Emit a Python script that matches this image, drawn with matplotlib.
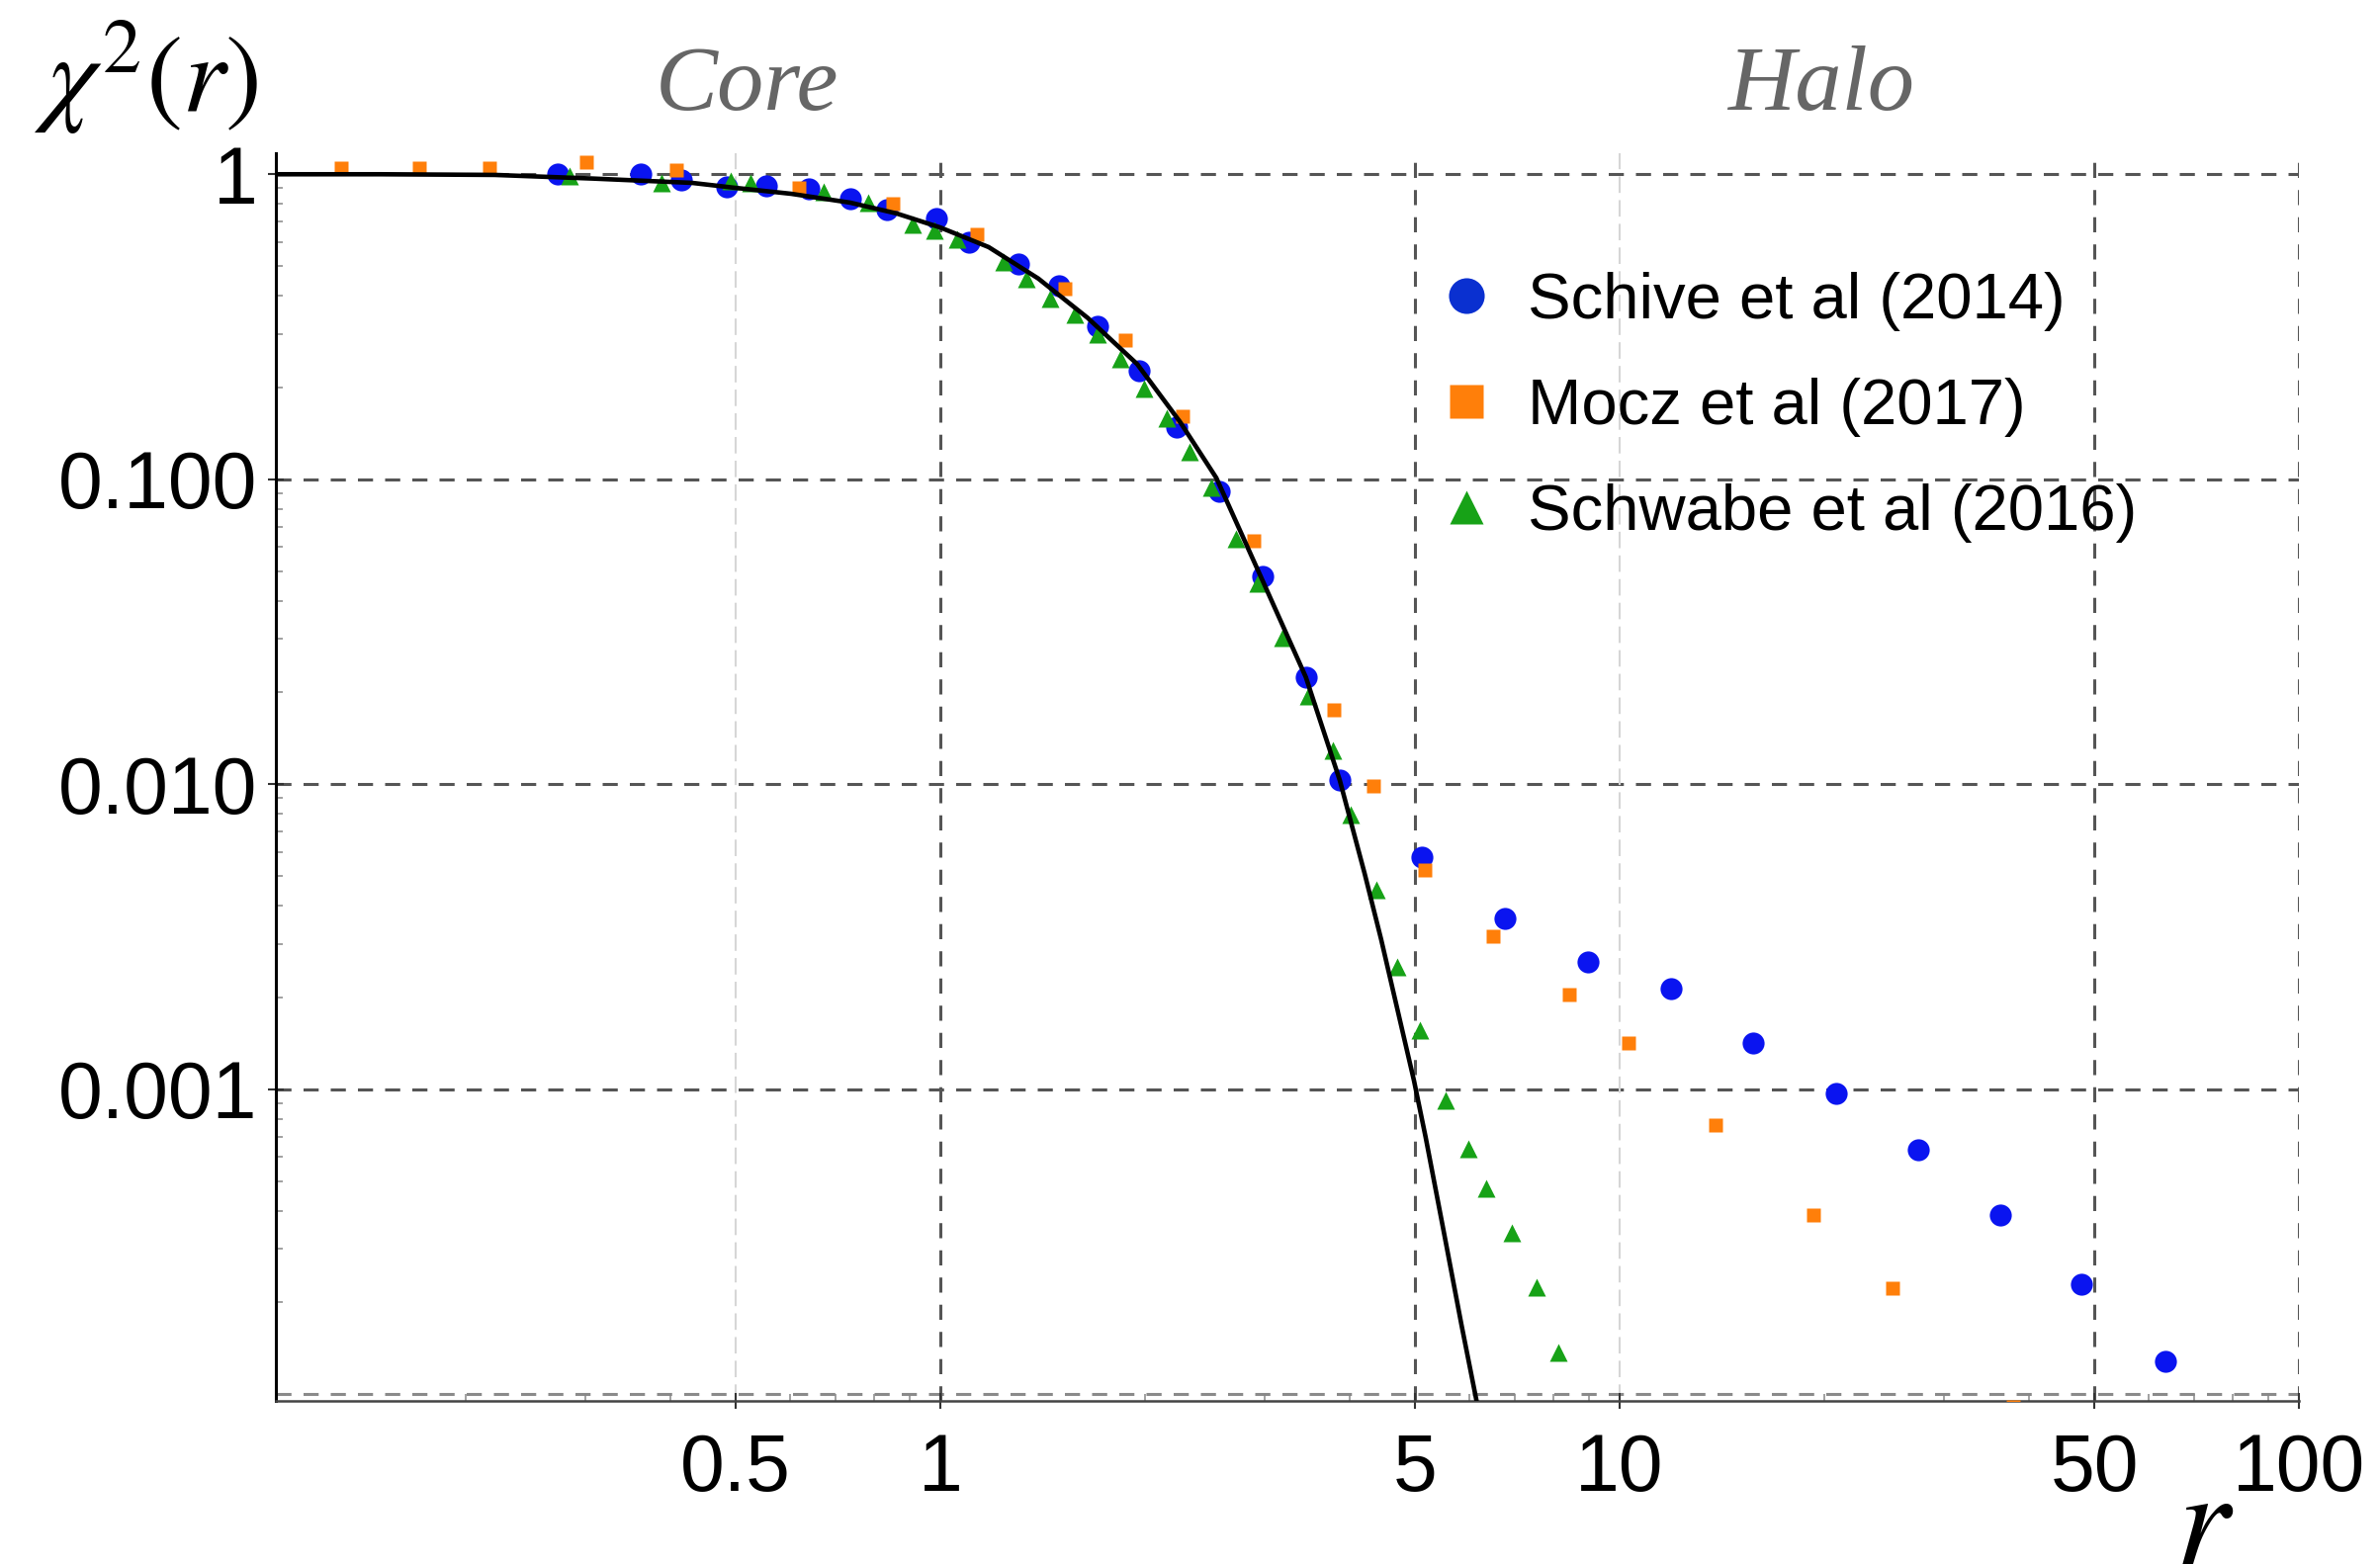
import numpy as np
import matplotlib
matplotlib.use("Agg")
import matplotlib.pyplot as plt
from matplotlib.lines import Line2D
from matplotlib.ticker import LogLocator, NullFormatter, FixedLocator

# ---- data -----------------------------------------------------------------
schive_r = [0.273, 0.362, 0.415, 0.484, 0.554, 0.641, 0.737, 0.834, 0.986, 1.102,
            1.303, 1.494, 1.704, 1.960, 2.228, 2.576, 2.979, 3.452, 3.873, 5.12,
            6.77, 8.98, 11.9, 15.74, 20.8, 27.5, 36.4, 47.8, 63.7]
schive_chi2 = [1.0, 1.0, 0.96, 0.908, 0.914, 0.896, 0.834, 0.768, 0.718, 0.599,
               0.509, 0.430, 0.318, 0.227, 0.1486, 0.0915, 0.048, 0.02245, 0.0103, 0.00578,
               0.00362, 0.00261, 0.00214, 0.00142, 0.000969, 0.000635, 0.000386, 0.000230, 0.000128]

mocz_r = [0.131, 0.171, 0.217, 0.301, 0.409, 0.620, 0.852, 1.133, 1.524, 1.874,
          2.271, 2.897, 3.797, 4.341, 5.162, 6.51, 8.42, 10.3, 13.84, 19.31,
          25.2, 37.9]
mocz_chi2 = [1.048, 1.048, 1.048, 1.094, 1.03, 0.903, 0.801, 0.637, 0.423, 0.285,
             0.1613, 0.063, 0.0175, 0.00987, 0.00524, 0.00318, 0.002046, 0.001418, 0.000762, 0.000388,
             0.000222, 0.0000910]

schwabe_r = [0.285, 0.389, 0.492, 0.526, 0.673, 0.784, 0.911, 0.980, 1.06, 1.239,
             1.34, 1.45, 1.576, 1.704, 1.842, 1.993, 2.155, 2.329, 2.505, 2.723,
             2.929, 3.185, 3.483, 3.788, 4.015, 4.38, 4.71, 5.08, 5.54, 5.99,
             6.36, 6.94, 7.55, 8.12]
schwabe_chi2 = [0.985, 0.937, 0.949, 0.937, 0.877, 0.807, 0.687, 0.653, 0.614, 0.516,
                0.455, 0.392, 0.347, 0.2985, 0.2476, 0.198, 0.1583, 0.1228, 0.0939, 0.0638,
                0.0456, 0.0303, 0.01948, 0.01289, 0.00795, 0.00451, 0.002513, 0.001566, 0.000922, 0.00064,
                0.000474, 0.000339, 0.000225, 0.0001368]

soliton_r = [0.10515, 0.15, 0.2207, 0.308, 0.431, 0.498, 0.603, 0.737, 0.862, 1.0,
             1.178, 1.394, 1.648, 1.949, 2.253, 2.548, 2.979, 3.452, 3.873, 4.212,
             4.455, 4.981, 5.18, 5.507, 5.85, 6.19]
soliton_chi2 = [1.0, 1.0, 0.995, 0.968, 0.937, 0.903, 0.863, 0.807, 0.744, 0.669,
                0.577, 0.455, 0.338, 0.2385, 0.1543, 0.1011, 0.0467, 0.02245, 0.0103, 0.00511,
                0.003105, 0.001066, 0.000698, 0.000343, 0.000169, 0.0000896]

series_labels = ["Schive et al (2014)", "Mocz et al (2017)", "Schwabe et al (2016)"]

x_ticks = [0.5, 1, 5, 10, 50, 100]
x_ticklabels = ["0.5", "1", "5", "10", "50", "100"]
y_ticks = [1e-3, 1e-2, 1e-1, 1]
y_ticklabels = ["0.001", "0.010", "0.100", "1"]

# ---- styling --------------------------------------------------------------
BLUE = "#0a14f0"
ORANGE = "#ff7f0a"
GREEN = "#17a217"
SANS = ["Liberation Sans", "DejaVu Sans"]

W, H = 2407, 1582
fig = plt.figure(figsize=(W / 100, H / 100), dpi=100)
ax = fig.add_axes([279 / W, (H - 1416.5) / H, (2325 - 279) / W, (1416.5 - 155) / H])

ax.set_xscale("log")
ax.set_yscale("log")
ax.set_xlim(0.10515, 100)
ax.set_ylim(9.55e-5, 1.172)

# grid lines
dark = dict(color="#555555", lw=2.2, ls=(0, (5, 4)), zorder=1)
for yv in [1, 0.1, 0.01, 0.001]:
    ax.axhline(yv, **dark)
ax.axhline(1e-4, color="#8a8a8a", lw=2.2, ls=(0, (5, 4)), zorder=1)
for xv in [1, 5, 50, 100]:
    ax.axvline(xv, **dark)
for xv in [0.5, 10]:
    ax.axvline(xv, color="#d6d6d6", lw=1.5, ls=(0, (8, 3.5)), zorder=1)

# data points and profile curve
ax.plot(schive_r, schive_chi2, ls="none", marker="o", ms=16, color=BLUE,
        mec="none", zorder=3)
ax.plot(mocz_r, mocz_chi2, ls="none", marker="s", ms=10.5, color=ORANGE,
        mec="none", zorder=4)
ax.plot(schwabe_r, schwabe_chi2, ls="none", marker="^", ms=13.5, color=GREEN,
        mec="none", zorder=5)
ax.plot(soliton_r, soliton_chi2, color="black", lw=3.3, zorder=6)

# axes frame
for side in ["top", "right"]:
    ax.spines[side].set_visible(False)
ax.spines["left"].set_linewidth(2.2)
ax.spines["left"].set_color("black")
ax.spines["bottom"].set_linewidth(1.8)
ax.spines["bottom"].set_color("#444444")

ax.xaxis.set_major_locator(FixedLocator(x_ticks))
ax.set_xticklabels(x_ticklabels)
ax.yaxis.set_major_locator(FixedLocator(y_ticks))
ax.set_yticklabels(y_ticklabels)
ax.xaxis.set_minor_locator(LogLocator(base=10, subs=np.arange(2, 10), numticks=20))
ax.yaxis.set_minor_locator(LogLocator(base=10, subs=np.arange(2, 10), numticks=20))
ax.xaxis.set_minor_formatter(NullFormatter())
ax.yaxis.set_minor_formatter(NullFormatter())

ax.tick_params(axis="x", which="major", direction="inout", length=11, width=1.5,
               color="#333333", pad=18, labelsize=58)
ax.tick_params(axis="y", which="major", direction="inout", length=11, width=1.5,
               color="#333333", pad=8, labelsize=58)
ax.tick_params(which="minor", direction="in", length=5, width=1.1, color="#888888")
for lab in ax.get_xticklabels() + ax.get_yticklabels():
    lab.set_family(SANS)

# legend
handles = [
    Line2D([], [], ls="none", marker="o", ms=26, color="#0a30d0", mec="none"),
    Line2D([], [], ls="none", marker="s", ms=24, color=ORANGE, mec="none"),
    Line2D([], [], ls="none", marker="^", ms=25, color=GREEN, mec="none"),
]
ax.legend(handles, series_labels, loc="center left", bbox_to_anchor=(0.5725, 0.796),
          frameon=False, handlelength=1.0, handletextpad=0.45, labelspacing=0.72,
          borderpad=0, borderaxespad=0, prop={"family": SANS, "size": 47})

# annotations
fig.text(34 / W, 1 - 78 / H, r"$\chi^2(r)$", fontsize=80, ha="left", va="center",
         math_fontfamily="stix")
fig.text(2200 / W, (H - 1581) / H, r"$r$", fontsize=100, ha="left", va="baseline",
         math_fontfamily="stix")
for txt, xc in [("Core", 755), ("Halo", 1842)]:
    fig.text(xc / W, 1 - 88 / H, txt, fontsize=68, style="italic",
             family=["Liberation Serif", "DejaVu Serif"], color="#666666",
             ha="center", va="center")

fig.savefig("out.png", dpi=100)
